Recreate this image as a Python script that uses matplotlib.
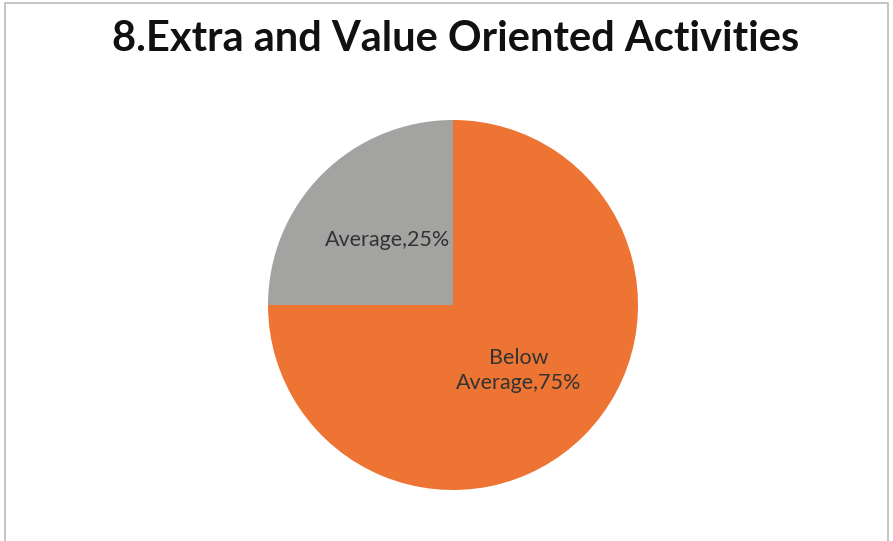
import matplotlib.pyplot as plt
from matplotlib.patches import Rectangle

title = "8.Extra and Value Oriented Activities"
categories = ["Below\nAverage", "Average"]
shares = [75, 25]
colors = ["#ED7433", "#A3A3A1"]


def main():
    fig = plt.figure(figsize=(8.93, 5.41), dpi=100)
    fig.patch.set_facecolor("white")

    # chart border
    fig.add_artist(Rectangle((5 / 893, -0.01), 883 / 893, 1 - 3 / 541 + 0.01,
                             transform=fig.transFigure, fill=False,
                             edgecolor="#BBBBBB", linewidth=1.2))

    fig.text(456 / 893, 1 - 39 / 541, title, ha="center", va="center",
             fontsize=30, fontweight="bold", family="Lato", color="#111111")

    ax = fig.add_axes([268 / 893, 51 / 541, 370 / 893, 370 / 541])
    wedges, texts = ax.pie(shares, colors=colors, startangle=90, counterclock=False,
                           labels=[f"{c},{s}%" for c, s in zip(categories, shares)],
                           labeldistance=0.5,
                           textprops=dict(fontsize=15.5, color="#333333", family="Lato"))
    for t in texts:
        t.set_ha("center")
        t.set_va("center")
        t.set_multialignment("center")
        t.set_linespacing(1.35)
    ax.set_xlim(-1, 1)
    ax.set_ylim(-1, 1)
    ax.set_aspect("auto")

    fig.savefig("out.png", dpi=100)


if __name__ == "__main__":
    main()
